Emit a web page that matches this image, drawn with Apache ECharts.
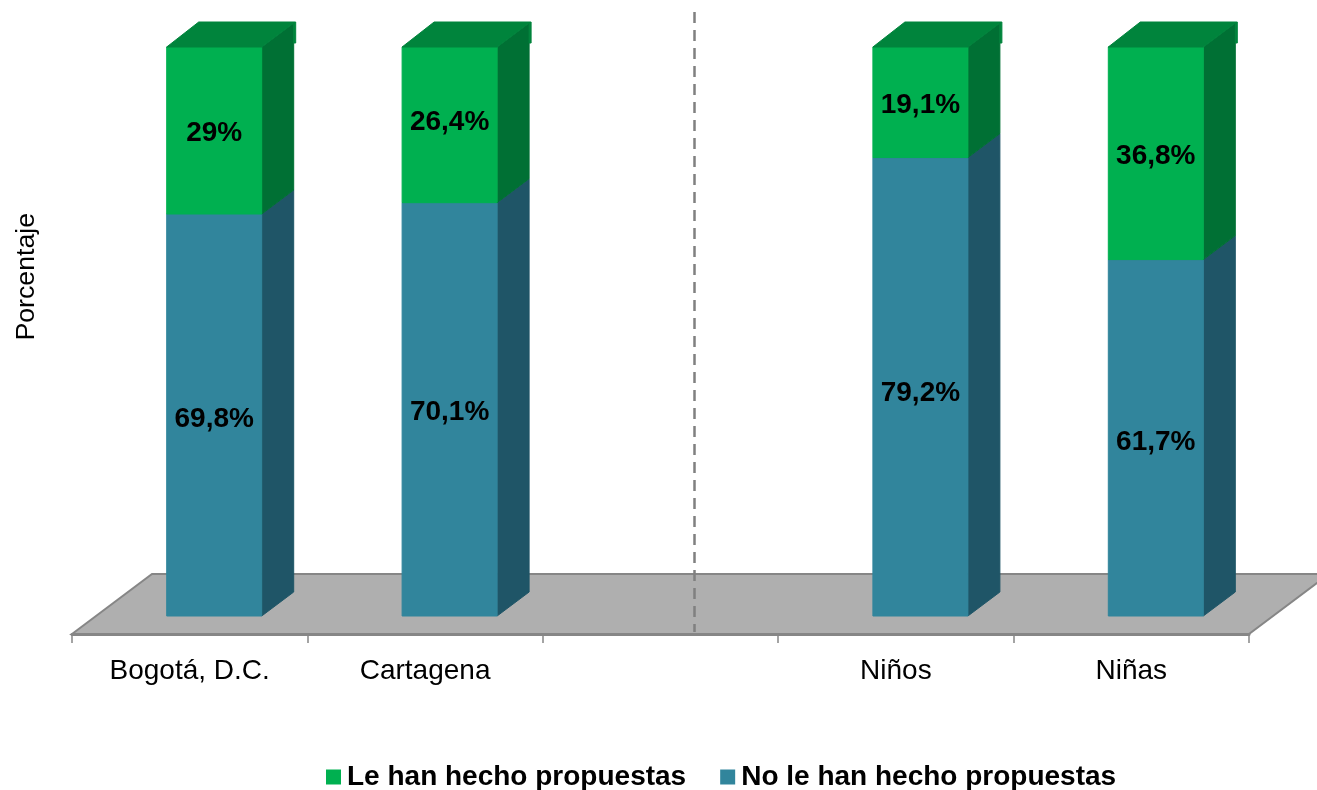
<!DOCTYPE html>
<html>
<head>
<meta charset="utf-8">
<style>
  html, body { margin: 0; padding: 0; background: #fff; }
  #chart { width: 1317px; height: 790px; }
</style>
<script src="https://cdn.jsdelivr.net/npm/echarts@6/dist/echarts.min.js"></script>
</head>
<body>
<div id="chart"></div>
<script>
var categories = ['Bogotá, D.C.', 'Cartagena', '', 'Niños', 'Niñas'];
var noPropuestas = [69.8, 70.1, null, 79.2, 61.7];
var lePropuestas = [29, 26.4, null, 19.1, 36.8];
var fmt = function (v) { return String(v).replace('.', ',') + '%'; };

// pseudo 3D sizes, px
var BAR_W = 95, BAR_SHIFT = 24.5, DEPTH_X = 32, DEPTH_Y = 24;
var FLOOR_DX = 80, FLOOR_DY = 60, FLOOR_FRONT = 18;

// some labels were moved by hand in the original
var noLabelDy = [4, 3, 0, 7, 4];
var leLabelDy = [3, -3, 0, 3, 3];

// the chart is 100% stacked, so each column is scaled to its own total
function rows(values, others, below) {
  var out = [];
  values.forEach(function (v, i) {
    if (v === null) return;
    var total = v + others[i];
    var start = below ? others[i] / total * 100 : 0;
    out.push([i, start, start + v / total * 100, v]);
  });
  return out;
}

// stroke in the fill colour closes the light seams between the faces
function poly(points, fill) {
  return { type: 'polygon', shape: { points: points }, style: { fill: fill, stroke: fill, lineWidth: 1 } };
}

function barRenderer(front, side, top, labelDy) {
  return function (params, api) {
    var p0 = api.coord([api.value(0), api.value(1)]);
    var p1 = api.coord([api.value(0), api.value(2)]);
    var x0 = p0[0] + BAR_SHIFT - BAR_W / 2, x1 = x0 + BAR_W;
    var yb = p0[1], yt = p1[1];
    var kids = [
      poly([[x1, yb], [x1 + DEPTH_X, yb - DEPTH_Y], [x1 + DEPTH_X, yt - DEPTH_Y], [x1, yt]], side),
      poly([[x0, yb], [x1, yb], [x1, yt], [x0, yt]], front)
    ];
    if (top) {
      kids.push(poly([[x0, yt], [x0 + DEPTH_X, yt - DEPTH_Y - 1], [x1 + DEPTH_X + 2, yt - DEPTH_Y - 1],
        [x1 + DEPTH_X + 2, yt - 4], [x1 + DEPTH_X, yt - 4], [x1 + DEPTH_X, yt - DEPTH_Y], [x1, yt]], top));
    }
    kids.push({
      type: 'text',
      style: {
        x: (x0 + x1) / 2, y: (yb + yt) / 2 + labelDy[api.value(0)],
        text: fmt(api.value(3)),
        fill: '#000', align: 'center', verticalAlign: 'middle',
        font: 'bold 28px "Liberation Sans", Arial, sans-serif'
      }
    });
    return { type: 'group', children: kids };
  };
}

function floorRenderer(params) {
  var c = params.coordSys;
  var yf = c.y + c.height + FLOOR_FRONT, xl = c.x, xr = c.x + c.width;
  return {
    type: 'polygon',
    shape: { points: [[xl, yf], [xl + FLOOR_DX, yf - FLOOR_DY], [xr + FLOOR_DX, yf - FLOOR_DY], [xr, yf]] },
    style: { fill: '#afafaf', stroke: '#868686', lineWidth: 2 }
  };
}

function dividerRenderer(params) {
  var c = params.coordSys;
  return {
    type: 'line',
    shape: { x1: 694.5, y1: 12, x2: 694.5, y2: c.y + c.height + FLOOR_FRONT - 2 },
    style: { stroke: '#808080', lineWidth: 2.5, lineDash: [11, 7] }
  };
}

var chart = echarts.init(document.getElementById('chart'), null, { renderer: 'canvas' });
chart.setOption({
  animation: false,
  backgroundColor: '#fff',
  textStyle: { fontFamily: '"Liberation Sans", Arial, sans-serif' },
  grid: { left: 72, top: 47, width: 1177, height: 569 },
  legend: {
    left: 326, top: 763, padding: 0,
    icon: 'rect', itemWidth: 15, itemHeight: 15, itemGap: 34,
    data: ['Le han hecho propuestas', 'No le han hecho propuestas'],
    textStyle: { fontSize: 28, fontWeight: 'bold', color: '#000', padding: [0, 0, 0, 1] }
  },
  graphic: [{
    type: 'text', left: 13, top: 213,
    rotation: Math.PI / 2,
    style: { text: 'Porcentaje', fill: '#000', font: '26.7px "Liberation Sans", Arial, sans-serif' }
  }],
  xAxis: {
    type: 'category', data: categories, offset: FLOOR_FRONT, z: 2,
    axisLine: { onZero: false, lineStyle: { color: '#868686', width: 3 } },
    axisTick: { show: true, interval: 0, length: 9, lineStyle: { color: '#868686', width: 1.5 } },
    axisLabel: { interval: 0, fontSize: 28, color: '#000', margin: 23 }
  },
  yAxis: {
    type: 'value', min: 0, max: 100,
    axisLine: { show: false }, axisTick: { show: false },
    axisLabel: { show: false }, splitLine: { show: false }
  },
  series: [
    { type: 'custom', silent: true, z: 1, data: [[0, 0]], renderItem: floorRenderer, clip: false },
    {
      type: 'custom', name: 'No le han hecho propuestas', z: 3,
      itemStyle: { color: '#31859c' },
      data: rows(noPropuestas, lePropuestas, false),
      renderItem: barRenderer('#31859c', '#1f5567', null, noLabelDy)
    },
    {
      type: 'custom', name: 'Le han hecho propuestas', z: 4,
      itemStyle: { color: '#00b050' },
      data: rows(lePropuestas, noPropuestas, true),
      renderItem: barRenderer('#00b050', '#007034', '#00843c', leLabelDy)
    },
    { type: 'custom', silent: true, z: 5, data: [[0, 0]], renderItem: dividerRenderer, clip: false }
  ]
});
</script>
</body>
</html>
